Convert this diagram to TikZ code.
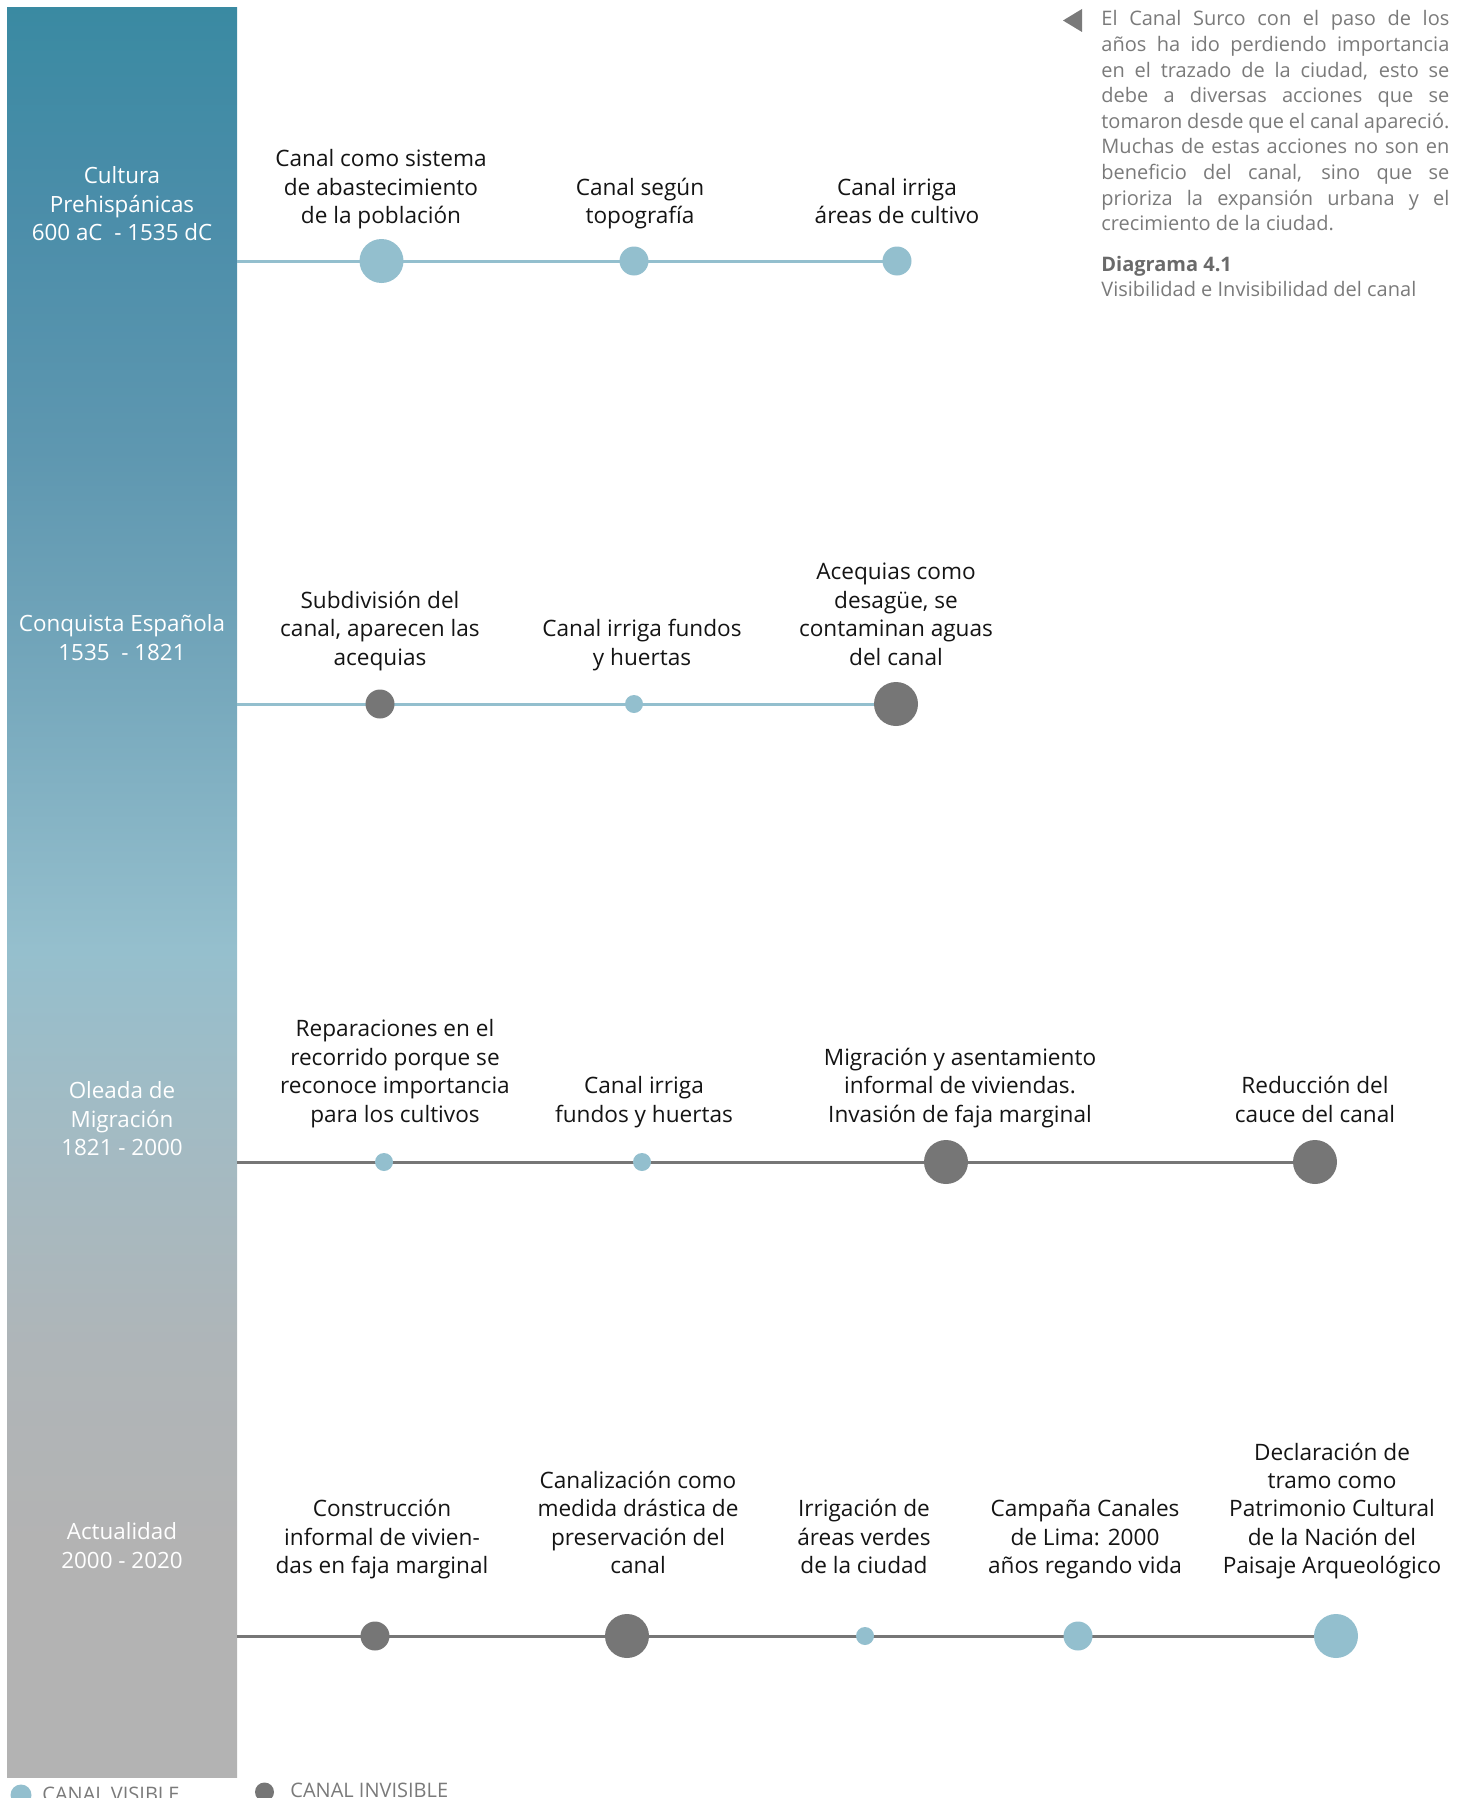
\documentclass[tikz,border=0pt]{standalone}
\usepackage{fontspec}
\setmainfont{Open Sans}

% palette
\definecolor{visc}{HTML}{93BFCE}
\definecolor{invc}{HTML}{767676}
\definecolor{txtgray}{HTML}{7A7A7A}
\definecolor{capgray}{HTML}{6A6A6A}
\definecolor{lblc}{HTML}{141414}
% band gradient, bottom to top
\definecolor{ba}{HTML}{B3B3B3}
\definecolor{bb}{HTML}{B3B3B3}
\definecolor{bc}{HTML}{AFB5B8}
\definecolor{bd}{HTML}{A2BBC4}
\definecolor{be}{HTML}{95BFCD}
\definecolor{bf}{HTML}{72A5BA}
\definecolor{bg}{HTML}{5E97B0}
\definecolor{bh}{HTML}{4A8DA9}
\definecolor{bi}{HTML}{3A8AA2}
\pgfdeclareverticalshading{bandshade}{100bp}{%
  color(0bp)=(ba); color(25bp)=(ba); color(31.4bp)=(bb); color(37.05bp)=(bc);
  color(43.6bp)=(bd); color(48.4bp)=(be); color(56.85bp)=(bf);
  color(62.5bp)=(bg); color(69.55bp)=(bh); color(75bp)=(bi); color(100bp)=(bi)}

\tikzset{
  dotvis/.style={circle, fill=visc, draw=none, inner sep=0pt},
  dotinv/.style={circle, fill=invc, draw=none, inner sep=0pt},
  big/.style={minimum size=22pt},
  mid/.style={minimum size=14.5pt},
  small/.style={minimum size=9pt},
  visline/.style={draw=visc, line width=1.5pt},
  invline/.style={draw=invc, line width=1.5pt},
  lbl/.style={align=center, inner sep=0pt, text depth=0pt, anchor=south,
    text=lblc, font=\fontsize{11.3}{14.2}\selectfont},
  bandtxt/.style={align=center, inner sep=0pt, text depth=0pt, anchor=south,
    text=white, font=\fontsize{11.2}{14.2}\selectfont},
  paratxt/.style={align=left, inner sep=0pt, text depth=0pt, text=txtgray,
    font=\fontsize{10}{12.8}\selectfont},
  legtxt/.style={inner sep=0pt, anchor=base west, text=txtgray,
    font=\fontsize{10}{12}\selectfont}
}
\newcommand{\jl}[1]{\makebox[174pt][s]{#1}}

\begin{document}
\begin{tikzpicture}[x=0.5pt,y=-0.5pt]
\useasboundingbox (0,0) rectangle (1460,1798);
\clip (0,0) rectangle (1460,1798);

% period band
\shade[shading=bandshade] (7,8) rectangle (237,1777);
\node[bandtxt] (per1) at (122,241) {Cultura\\Prehispánicas\\600 aC\ \ - 1535 dC};
\node[bandtxt] (per2) at (122,660.5) {Conquista Española\\1535\ \ - 1821};
\node[bandtxt] (per3) at (122,1156) {Oleada de\\Migración\\1821 - 2000};
\node[bandtxt] (per4) at (122,1568.5) {Actualidad\\2000 - 2020};

% anchor points of the timelines
\coordinate (s1) at (237,261);
\coordinate (s2) at (237,704);
\coordinate (s3) at (237,1162);
\coordinate (s4) at (237,1636);
\coordinate (c11) at (381.5,261);
\coordinate (c12) at (634,261);
\coordinate (c13) at (897,261);
\coordinate (c21) at (380,704);
\coordinate (c22) at (634,704);
\coordinate (c23) at (896,704);
\coordinate (c31) at (384,1162);
\coordinate (c32) at (642,1162);
\coordinate (c33) at (946,1162);
\coordinate (c34) at (1315,1162);
\coordinate (c41) at (375,1636);
\coordinate (c42) at (627,1636);
\coordinate (c43) at (865,1636);
\coordinate (c44) at (1078,1636);
\coordinate (c45) at (1336,1636);

% timelines
\draw[visline] (s1) -- (c13);
\draw[visline] (s2) -- (c23);
\draw[invline] (s3) -- (c34);
\draw[invline] (s4) -- (c45);

% events
\node[dotvis,big] (e11) at (c11) {};
\node[dotvis,mid] (e12) at (c12) {};
\node[dotvis,mid] (e13) at (c13) {};
\node[dotinv,mid] (e21) at (c21) {};
\node[dotvis,small] (e22) at (c22) {};
\node[dotinv,big] (e23) at (c23) {};
\node[dotvis,small] (e31) at (c31) {};
\node[dotvis,small] (e32) at (c32) {};
\node[dotinv,big] (e33) at (c33) {};
\node[dotinv,big] (e34) at (c34) {};
\node[dotinv,mid] (e41) at (c41) {};
\node[dotinv,big] (e42) at (c42) {};
\node[dotvis,small] (e43) at (c43) {};
\node[dotvis,mid] (e44) at (c44) {};
\node[dotvis,big] (e45) at (c45) {};

% event labels
\node[lbl] (l11) at (381,224) {Canal como sistema\\de abastecimiento\\de la población};
\node[lbl] (l12) at (640,224) {Canal según\\topografía};
\node[lbl] (l13) at (897,224) {Canal irriga\\áreas de cultivo};

\node[lbl] (l21) at (380,665.5) {Subdivisión del\\canal, aparecen las\\acequias};
\node[lbl] (l22) at (642,665.5) {Canal irriga fundos\\y huertas};
\node[lbl] (l23) at (896,665.5) {Acequias como\\desagüe, se\\contaminan aguas\\del canal};

\node[lbl] (l31) at (395,1122.5) {Reparaciones en el\\recorrido porque se\\reconoce importancia\\para los cultivos};
\node[lbl] (l32) at (644,1122.5) {Canal irriga\\fundos y huertas};
\node[lbl] (l33) at (960,1122.5) {Migración y asentamiento\\informal de viviendas.\\Invasión de faja marginal};
\node[lbl] (l34) at (1315,1122.5) {Reducción del\\cauce del canal};

\node[lbl] (l41) at (382,1574) {Construcción\\informal de vivien-\\das en faja marginal};
\node[lbl] (l42) at (638,1574) {Canalización como\\medida drástica de\\preservación del\\canal};
\node[lbl] (l43) at (864,1574) {Irrigación de\\áreas verdes\\de la ciudad};
\node[lbl] (l44) at (1085,1574) {Campaña Canales\\de Lima: 2000\\años regando vida};
\node[lbl] (l45) at (1332,1574) {Declaración de\\tramo como\\Patrimonio Cultural\\de la Nación del\\Paisaje Arqueológico};

% side note
\fill[txtgray] (1063,20.5) -- (1082,9) -- (1082,32) -- cycle;
\node[paratxt, anchor=south west] (note) at (1101,231) {%
\jl{El Canal Surco con el paso de los}\\
\jl{años ha ido perdiendo importancia}\\
\jl{en el trazado de la ciudad, esto se}\\
\jl{debe a diversas acciones que se}\\
\jl{tomaron desde que el canal apareció.}\\
\jl{Muchas de estas acciones no son en}\\
\jl{beneficio del canal, sino que se}\\
\jl{prioriza la expansión urbana y el}\\
crecimiento de la ciudad.};
\node[paratxt, anchor=base west, text=capgray, font=\fontsize{10}{12}\selectfont\bfseries] (cap) at (1101,271) {Diagrama 4.1};
\node[paratxt, anchor=base west] (capsub) at (1101,296) {Visibilidad e Invisibilidad del canal};

% legend
\node[dotvis, minimum size=10.5pt] (kv) at (21,1795) {};
\node[legtxt] (kvt) at (42,1801) {CANAL VISIBLE};
\node[dotinv, minimum size=9.5pt] (ki) at (264.5,1792) {};
\node[legtxt] (kit) at (290,1797) {CANAL INVISIBLE};
\end{tikzpicture}
\end{document}
